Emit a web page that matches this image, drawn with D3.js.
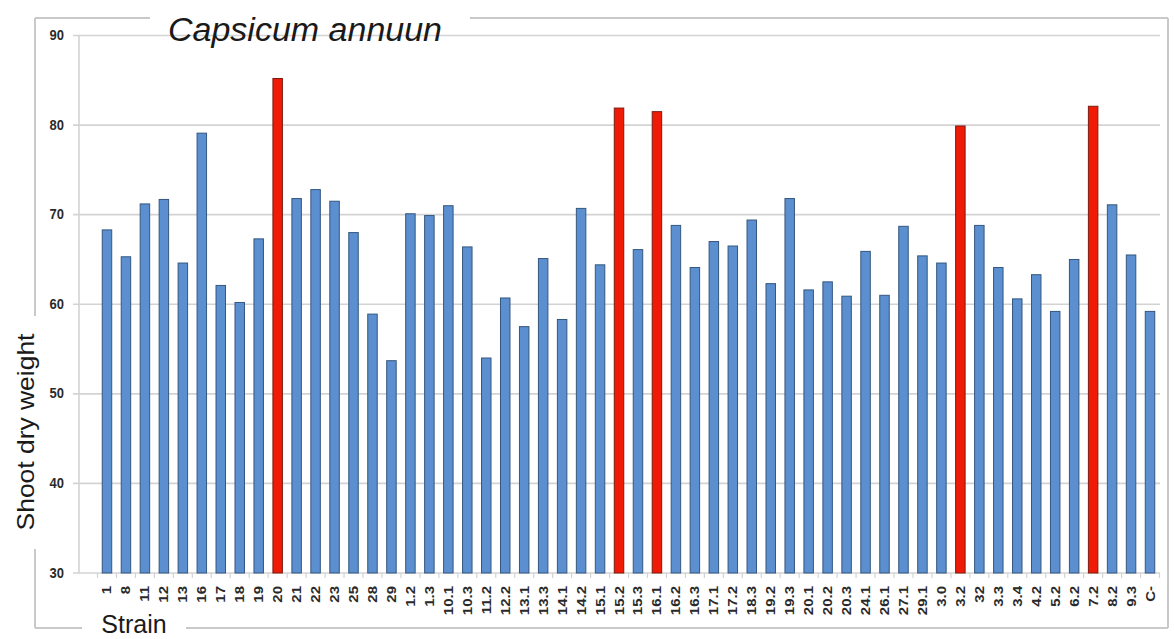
<!DOCTYPE html>
<html><head><meta charset="utf-8">
<script src="https://cdn.jsdelivr.net/npm/d3@7"></script>
<style>body{margin:0;background:#fff;}svg{display:block;}</style>
</head><body>
<svg id="c" width="1174" height="639"></svg>
<script>
const categories = ["1","8","11","12","13","16","17","18","19","20","21","22","23","25","28","29","1.2","1.3","10.1","10.3","11.2","12.2","13.1","13.3","14.1","14.2","15.1","15.2","15.3","16.1","16.2","16.3","17.1","17.2","18.3","19.2","19.3","20.1","20.2","20.3","24.1","26.1","27.1","29.1","3.0","3.2","32","3.3","3.4","4.2","5.2","6.2","7.2","8.2","9.3","C-"];
const values = [68.3,65.3,71.2,71.7,64.6,79.1,62.1,60.2,67.3,85.2,71.8,72.8,71.5,68.0,58.9,53.7,70.1,69.9,71.0,66.4,54.0,60.7,57.5,65.1,58.3,70.7,64.4,81.9,66.1,81.5,68.8,64.1,67.0,66.5,69.4,62.3,71.8,61.6,62.5,60.9,65.9,61.0,68.7,65.4,64.6,79.9,68.8,64.1,60.6,63.3,59.2,65.0,82.1,71.1,65.5,59.2];
const highlighted = ["20","15.2","16.1","3.2","7.2"];
const yTicks = [30,40,50,60,70,80,90];
const title = "Capsicum annuun";
const xTitle = "Strain";
const yTitle = "Shoot dry weight";

const svg = d3.select("#c");
const frameCol = "#c9c9c9";
const gridCol = "#d3d3d3";
const font = "Liberation Sans, Arial, sans-serif";

const y = d3.scaleLinear().domain([30,90]).range([573,35.5]);
const x = d3.scaleBand().domain(categories).range([97.5,1159.5]).paddingInner(0.5).paddingOuter(0.25);

// outer frame with gaps
const fr = [[35,18,150,18],[470,18,1168,18],[1168,18,1168,628],[35,628,82,628],[186,628,1168,628],[35,18,35,316],[35,549,35,628]];
svg.selectAll("line.fr").data(fr).join("line").attr("class","fr")
  .attr("x1",d=>d[0]).attr("y1",d=>d[1]).attr("x2",d=>d[2]).attr("y2",d=>d[3])
  .attr("stroke",frameCol).attr("stroke-width",2);

// gridlines
svg.append("g").selectAll("line").data(yTicks).join("line")
  .attr("x1",73).attr("x2",1160).attr("y1",d=>y(d)).attr("y2",d=>y(d))
  .attr("stroke",gridCol).attr("stroke-width",1.6);
// y axis line
svg.append("line").attr("x1",79).attr("x2",79).attr("y1",y(90)).attr("y2",y(30)).attr("stroke",gridCol).attr("stroke-width",1.6);

// y tick labels
const yAxis = d3.axisLeft(y).tickValues(yTicks).tickSize(0).tickPadding(0);
const gy = svg.append("g").attr("transform","translate(64,0)").call(yAxis);
gy.select(".domain").remove();
gy.selectAll("text").attr("font-family",font).attr("font-weight","bold").attr("font-size",13).attr("fill","#2a2a2a")
  .attr("transform","scale(1,1.1)").attr("dy","0.32em");
gy.selectAll(".tick").each(function(d){
  d3.select(this).attr("transform",`translate(0,${y(d)})`);
});

// x axis ticks between categories
const step = x.step();
svg.append("g").selectAll("line").data(d3.range(categories.length+1)).join("line")
  .attr("x1",i=>x(categories[0]) - (step - x.bandwidth())/2 + i*step)
  .attr("x2",i=>x(categories[0]) - (step - x.bandwidth())/2 + i*step)
  .attr("y1",573).attr("y2",578).attr("stroke",gridCol).attr("stroke-width",1.2);

// bars
svg.append("g").selectAll("rect").data(categories).join("rect")
  .attr("x",d=>x(d)).attr("width",x.bandwidth())
  .attr("y",(d,i)=>y(values[i])).attr("height",(d,i)=>y(30)-y(values[i]))
  .attr("fill",d=>highlighted.includes(d)?"#f01b06":"#5b8fcf")
  .attr("stroke",d=>highlighted.includes(d)?"#7a1a10":"#34577f").attr("stroke-width",1);

// x tick labels
const gx = svg.append("g").attr("transform","translate(0,586)");
gx.selectAll("text").data(categories).join("text")
  .attr("transform",d=>`translate(${x(d)+x.bandwidth()/2+4.5},0) rotate(-90) scale(1.25,1)`)
  .attr("text-anchor","end")
  .attr("font-family",font).attr("font-weight","bold").attr("font-size",12).attr("fill","#2a2a2a")
  .text(d=>d);

// titles
svg.append("text").attr("x",305).attr("y",41).attr("text-anchor","middle")
  .attr("font-family",font).attr("font-style","italic").attr("font-size",34).attr("fill","#1a1a1a").text(title);
svg.append("text").attr("x",134).attr("y",633).attr("text-anchor","middle")
  .attr("font-family",font).attr("font-size",25).attr("fill","#1a1a1a").text(xTitle);
svg.append("text").attr("transform","translate(34,432) rotate(-90) scale(1.15,1)").attr("text-anchor","middle")
  .attr("font-family",font).attr("font-size",23).attr("fill","#1a1a1a").text(yTitle);
</script>
</body></html>
